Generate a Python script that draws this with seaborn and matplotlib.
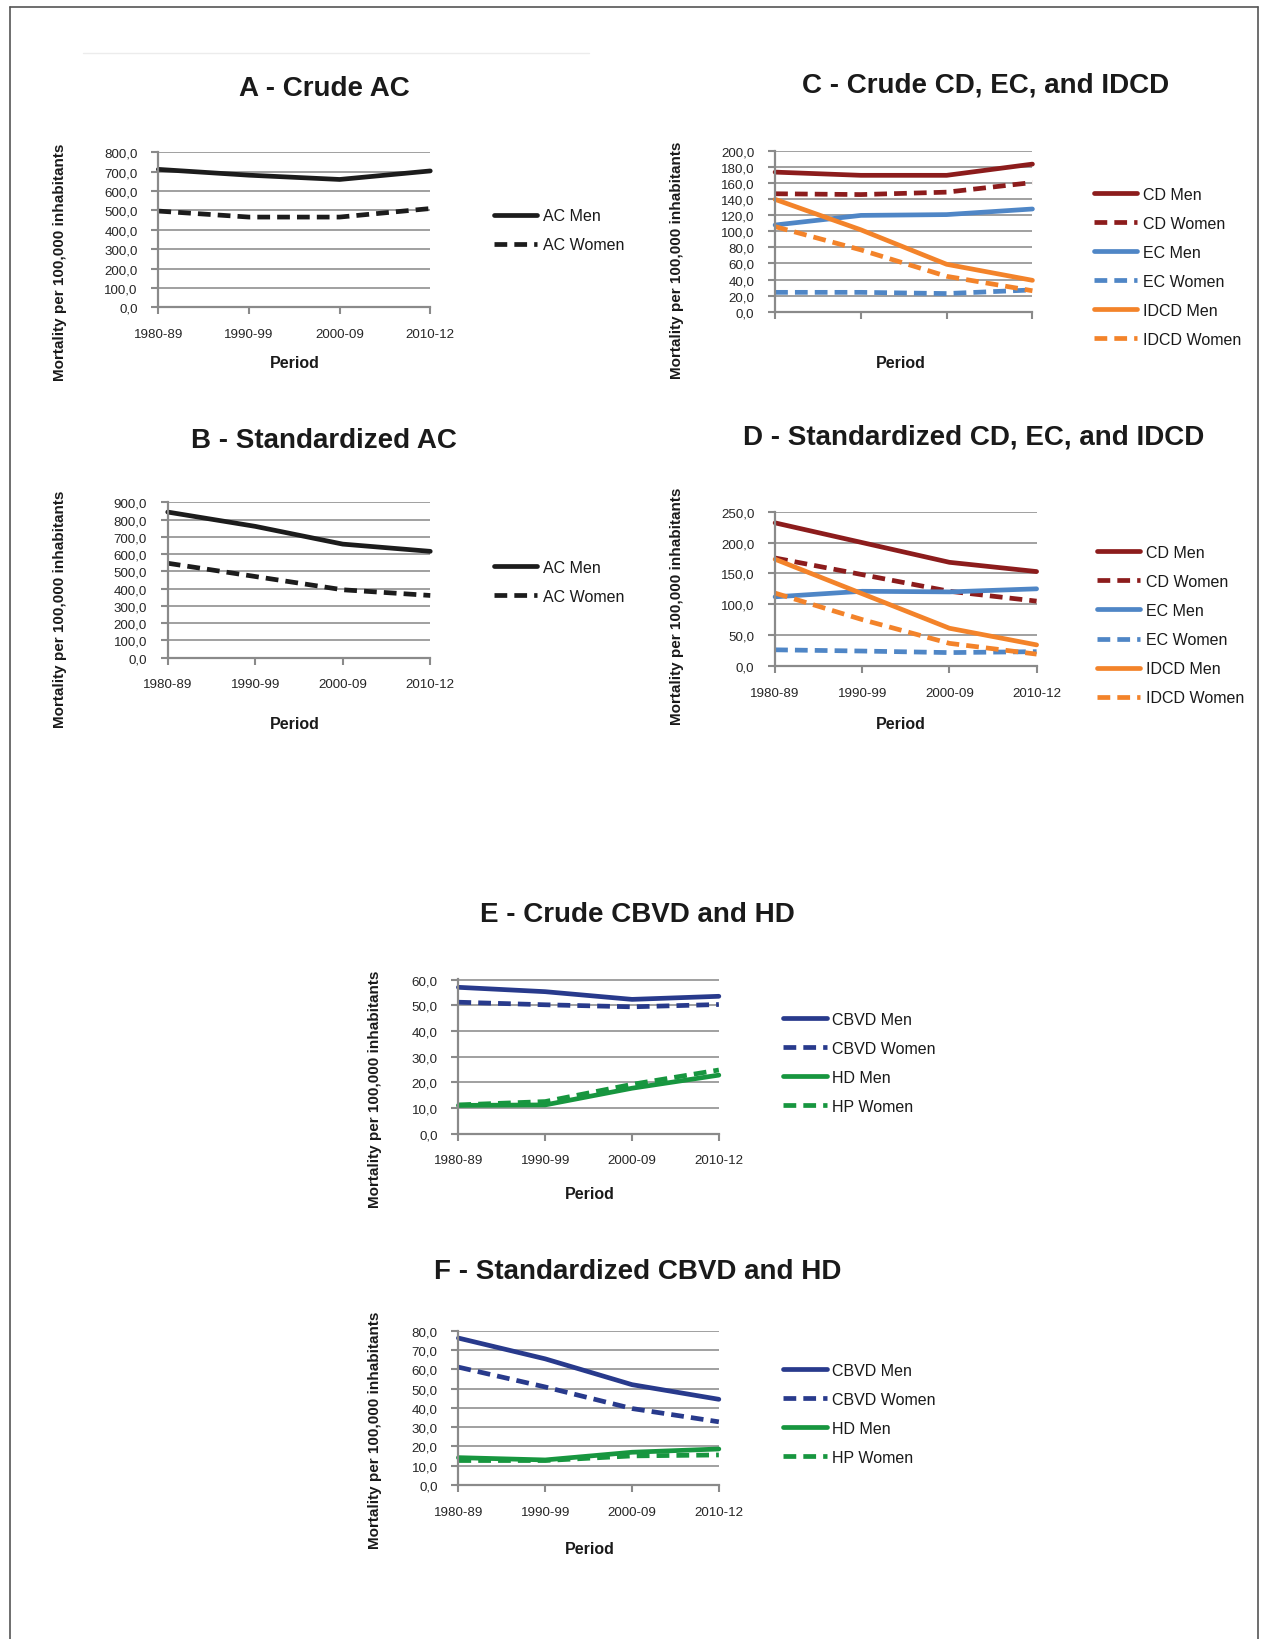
"""Mortality trends panels A-F (crude and standardized rates)."""

import matplotlib

matplotlib.use("Agg")
import matplotlib.pyplot as plt
import pandas as pd
import seaborn as sns
from matplotlib.lines import Line2D
from matplotlib.ticker import FuncFormatter, MultipleLocator

PERIODS = ["1980-89", "1990-99", "2000-09", "2010-12"]

# A - crude all causes
AC_CRUDE_MEN = [712, 682, 660, 704]
AC_CRUDE_WOMEN = [497, 466, 466, 510]
# B - standardized all causes
AC_STD_MEN = [844, 761, 658, 616]
AC_STD_WOMEN = [547, 470, 393, 360]

# C - crude CD, EC, IDCD
CD_CRUDE_MEN = [174, 170, 170, 184]
CD_CRUDE_WOMEN = [147, 146, 149, 161]
EC_CRUDE_MEN = [108, 120, 121, 128]
EC_CRUDE_WOMEN = [24, 24, 22.5, 27]
IDCD_CRUDE_MEN = [140, 102, 59, 39]
IDCD_CRUDE_WOMEN = [106, 77, 44, 26]
# D - standardized CD, EC, IDCD
CD_STD_MEN = [232, 200, 168, 153]
CD_STD_WOMEN = [175, 148, 121, 105]
EC_STD_MEN = [112, 121, 120, 125]
EC_STD_WOMEN = [26, 24, 21.5, 23]
IDCD_STD_MEN = [173, 117, 61, 34]
IDCD_STD_WOMEN = [118, 75, 36.5, 19]

# E - crude CBVD, HD
CBVD_CRUDE_MEN = [57, 55.3, 52.3, 53.5]
CBVD_CRUDE_WOMEN = [51.2, 50.2, 49.4, 50.3]
HD_CRUDE_MEN = [11, 11.2, 17.7, 22.8]
HD_CRUDE_WOMEN = [11.2, 12.5, 19.2, 24.8]
# F - standardized CBVD, HD
CBVD_STD_MEN = [76.2, 65.4, 52, 44.4]
CBVD_STD_WOMEN = [61.1, 50.8, 39.6, 32.7]
HD_STD_MEN = [14.1, 12.9, 16.9, 18.6]
HD_STD_WOMEN = [12.6, 12.6, 15, 15.5]

AC_LABELS = ["AC Men", "AC Women"]
CD_LABELS = ["CD Men", "CD Women", "EC Men", "EC Women", "IDCD Men", "IDCD Women"]
CBVD_LABELS = ["CBVD Men", "CBVD Women", "HD Men", "HP Women"]

BLACK = "#1c1c1c"
DARKRED = "#8c1c1c"
BLUE = "#4f86c6"
ORANGE = "#f3832a"
NAVY = "#283a8c"
GREEN = "#17963f"
GRID = "#a0a0a0"
AXIS = "#8a8a8a"
TEXT = "#1a1a1a"

LW = 3.4
DASH = (2.7, 1.5)

# reference measured in its own pixel grid
W, H = 1220.0, 1574.0

sns.set_theme(style="white")
plt.rcParams["font.family"] = ["Liberation Sans", "DejaVu Sans"]


def fx(x):
    return x / W


def fy(y):
    return 1 - y / H


def comma(v, _pos):
    return f"{v:.1f}".replace(".", ",")


def draw_panel(fig, frame, title, title_xy, labels, values, colors, ymax, ystep,
               legend_xy, ylabel_xy, period_xy, xlabels=True):
    left, right, top, bottom = frame
    ax = fig.add_axes([fx(left), fy(bottom), fx(right) - fx(left), fy(top) - fy(bottom)])

    rows = []
    for name, vals in zip(labels, values):
        for period, v in zip(PERIODS, vals):
            rows.append({"period": period, "value": v, "series": name,
                         "sex": name.split()[-1]})
    df = pd.DataFrame(rows)
    sns.lineplot(data=df, x="period", y="value", hue="series", style="sex",
                 hue_order=labels, palette=dict(zip(labels, colors)),
                 dashes={"Men": "", "Women": DASH}, linewidth=LW,
                 sort=False, legend=False, ax=ax)
    for line in ax.lines:
        line.set_clip_on(False)

    ax.set_xlim(0, len(PERIODS) - 1)
    ax.set_ylim(0, ymax * 1.001)
    ax.yaxis.set_major_locator(MultipleLocator(ystep))
    ax.yaxis.set_major_formatter(FuncFormatter(comma))
    ax.grid(axis="y", color=GRID, lw=1.4)
    ax.grid(axis="x", visible=False)
    ax.set_axisbelow(True)
    for side in ("top", "right"):
        ax.spines[side].set_visible(False)
    for side in ("left", "bottom"):
        ax.spines[side].set_color(AXIS)
        ax.spines[side].set_linewidth(1.6)
    ax.tick_params(axis="both", colors=AXIS, length=5, width=1.5,
                   labelcolor="#262626", labelsize=9.6, direction="out",
                   bottom=True, left=True)
    ax.tick_params(axis="y", pad=10)
    ax.tick_params(axis="x", pad=10)
    ax.set_xlabel("")
    ax.set_ylabel("")
    if not xlabels:
        ax.set_xticklabels([])

    handles = [Line2D([], [], color=c, lw=LW,
                      ls="-" if name.split()[-1] == "Men" else (0, DASH))
               for name, c in zip(labels, colors)]
    fig.legend(handles, labels, loc="upper left",
               bbox_to_anchor=(fx(legend_xy[0]), fy(legend_xy[1])),
               frameon=False, fontsize=11.5, handlelength=2.7,
               handletextpad=0.35, labelspacing=0.88, borderpad=0,
               borderaxespad=0, labelcolor=TEXT)

    fig.text(fx(title_xy[0]), fy(title_xy[1]), title, ha="center", va="center",
             fontsize=20, fontweight="bold", color=TEXT)
    fig.text(fx(ylabel_xy[0]), fy(ylabel_xy[1]), "Mortality per 100,000 inhabitants",
             rotation=90, ha="center", va="center", fontsize=11,
             fontweight="bold", color=TEXT)
    fig.text(fx(period_xy[0]), fy(period_xy[1]), "Period", ha="center",
             va="center", fontsize=11.5, fontweight="bold", color=TEXT)
    return ax


fig = plt.figure(figsize=(12.71, 16.40), dpi=100)

draw_panel(fig, (152, 413, 147, 296), "A - Crude AC", (311, 85),
           AC_LABELS, [AC_CRUDE_MEN, AC_CRUDE_WOMEN], [BLACK, BLACK],
           800, 100, (474, 201), (58, 252), (283, 349))
draw_panel(fig, (161, 413, 483, 632), "B - Standardized AC", (311, 423),
           AC_LABELS, [AC_STD_MEN, AC_STD_WOMEN], [BLACK, BLACK],
           900, 100, (474, 538), (58, 585), (283, 695))
draw_panel(fig, (744, 991, 146, 300), "C - Crude CD, EC, and IDCD", (946, 82),
           CD_LABELS,
           [CD_CRUDE_MEN, CD_CRUDE_WOMEN, EC_CRUDE_MEN, EC_CRUDE_WOMEN,
            IDCD_CRUDE_MEN, IDCD_CRUDE_WOMEN],
           [DARKRED, DARKRED, BLUE, BLUE, ORANGE, ORANGE],
           200, 20, (1050, 180), (650, 250), (865, 349), xlabels=False)
draw_panel(fig, (744, 995, 492, 640), "D - Standardized CD, EC, and IDCD", (935, 420),
           CD_LABELS,
           [CD_STD_MEN, CD_STD_WOMEN, EC_STD_MEN, EC_STD_WOMEN,
            IDCD_STD_MEN, IDCD_STD_WOMEN],
           [DARKRED, DARKRED, BLUE, BLUE, ORANGE, ORANGE],
           250, 50, (1053, 524), (650, 582), (865, 695))
draw_panel(fig, (440, 690, 941, 1089), "E - Crude CBVD and HD", (612, 878),
           CBVD_LABELS,
           [CBVD_CRUDE_MEN, CBVD_CRUDE_WOMEN, HD_CRUDE_MEN, HD_CRUDE_WOMEN],
           [NAVY, NAVY, GREEN, GREEN],
           60, 10, (752, 972), (360, 1045), (566, 1146))
draw_panel(fig, (440, 690, 1278, 1426), "F - Standardized CBVD and HD", (612, 1221),
           CBVD_LABELS,
           [CBVD_STD_MEN, CBVD_STD_WOMEN, HD_STD_MEN, HD_STD_WOMEN],
           [NAVY, NAVY, GREEN, GREEN],
           80, 10, (752, 1309), (360, 1373), (566, 1487))

# page frame (open at the bottom) and faint rule above panel A
frame_kw = dict(color="#555555", lw=1.2, transform=fig.transFigure)
fig.add_artist(Line2D([fx(10), fx(10)], [0, fy(8)], **frame_kw))
fig.add_artist(Line2D([fx(10), fx(1208)], [fy(8), fy(8)], **frame_kw))
fig.add_artist(Line2D([fx(1208), fx(1208)], [fy(8), 0], **frame_kw))
fig.add_artist(Line2D([fx(80), fx(565)], [fy(52), fy(52)], color="#ececec",
                      lw=1, transform=fig.transFigure))

fig.savefig("out.png", dpi=100, facecolor="white")
